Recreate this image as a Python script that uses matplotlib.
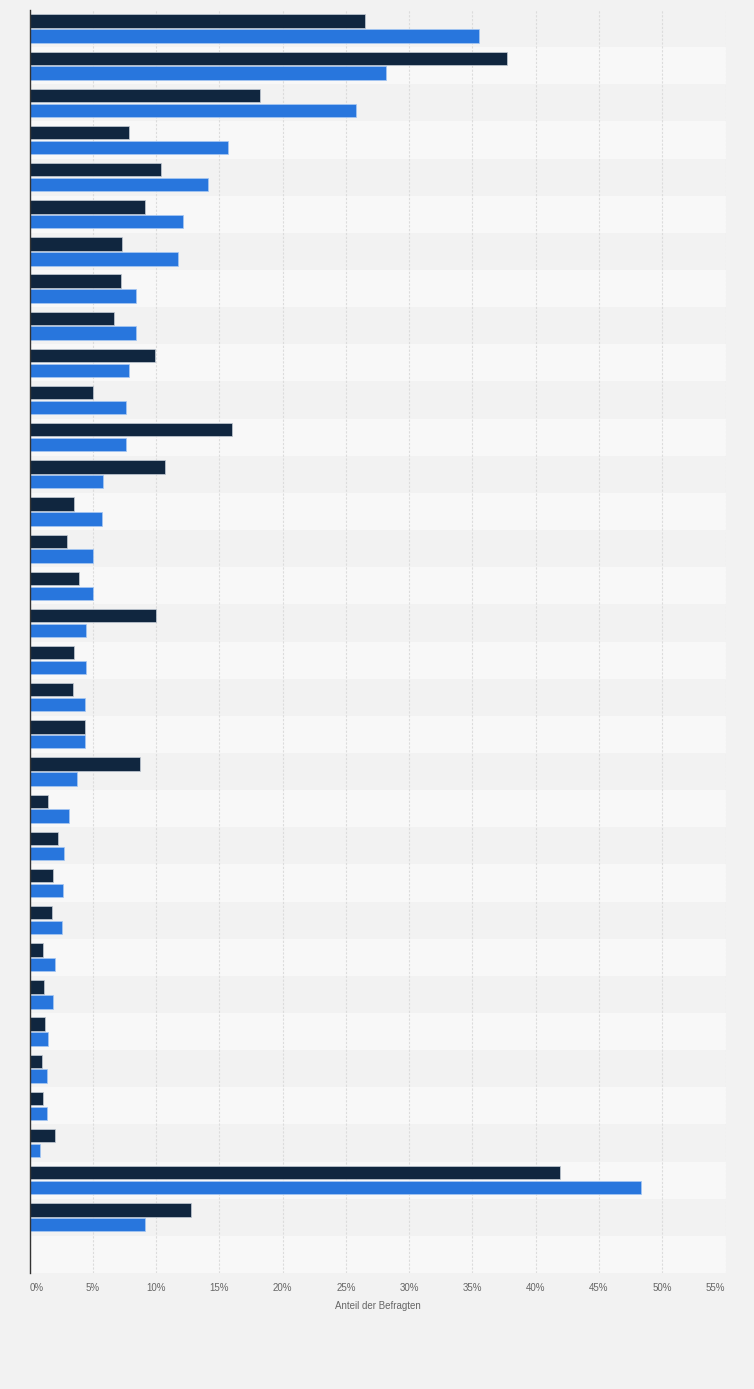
import numpy as np
import matplotlib
import matplotlib.pyplot as plt
matplotlib.use("Agg")

plt.rcParams["font.family"] = ["Liberation Sans", "DejaVu Sans"]

# Values per category (top to bottom), in percent
series_dark = [
    26.5, 37.7, 18.2, 7.9, 10.4, 9.1, 7.3, 7.2, 6.7, 9.9, 5.0,
    16.0, 10.7, 3.5, 3.0, 3.9, 10.0, 3.5, 3.4, 4.4, 8.7, 1.5,
    2.25, 1.85, 1.8, 1.05, 1.15, 1.2, 1.0, 1.05, 2.0, 41.9, 12.75,
]
series_blue = [
    35.5, 28.2, 25.8, 15.7, 14.1, 12.1, 11.7, 8.4, 8.4, 7.9, 7.6,
    7.6, 5.8, 5.7, 5.0, 5.0, 4.5, 4.5, 4.4, 4.4, 3.75, 3.1,
    2.7, 2.65, 2.55, 2.0, 1.85, 1.45, 1.4, 1.4, 0.85, 48.3, 9.1,
]
x_ticks = [0, 5, 10, 15, 20, 25, 30, 35, 40, 45, 50, 55]
x_label = "Anteil der Befragten"

# Layout
n_rows = len(series_dark) + 1  # one empty band at the bottom
fig = plt.figure(figsize=(7.54, 13.89), dpi=100, facecolor="#f2f2f2")
ax = fig.add_axes([29.5 / 754, 1 - 1273 / 1389, 696 / 754, 1263 / 1389])
ax.set_facecolor("#f2f2f2")

# Alternating row bands
for i in range(n_rows):
    ax.axhspan(i - 0.5, i + 0.5,
               color="#f2f2f2" if i % 2 == 0 else "#f8f8f8",
               zorder=0, linewidth=0)

y = np.arange(len(series_dark))
ax.barh(y - 0.2, series_dark, height=0.36,
        color="#10263f", edgecolor=(0.75, 0.78, 0.82, 0.9),
        linewidth=0.6, zorder=3)
ax.barh(y + 0.2, series_blue, height=0.36,
        color="#2876dd", edgecolor=(0.65, 0.78, 0.95, 0.9),
        linewidth=0.6, zorder=3)

ax.set_ylim(n_rows - 0.5, -0.5)
ax.set_xlim(0, 55)
ax.set_yticks([])

ax.set_xticks(x_ticks)
ax.set_xticklabels([f"{t}%" for t in x_ticks], fontsize=7, color="#666666")
labels = ax.get_xticklabels()
labels[0].set_horizontalalignment("left")
labels[-1].set_horizontalalignment("right")
ax.tick_params(axis="x", length=0, pad=7)

ax.grid(axis="x", color="#dcdcdc", linestyle=(0, (2, 1.5)), linewidth=0.8, zorder=1)
ax.set_xlabel(x_label, fontsize=7, color="#666666", labelpad=6)

for side in ["top", "right", "bottom"]:
    ax.spines[side].set_visible(False)
ax.spines["left"].set_color("#333333")
ax.spines["left"].set_linewidth(1.0)
ax.spines["left"].set_zorder(4)

fig.savefig("out.png", dpi=100, facecolor=fig.get_facecolor())
